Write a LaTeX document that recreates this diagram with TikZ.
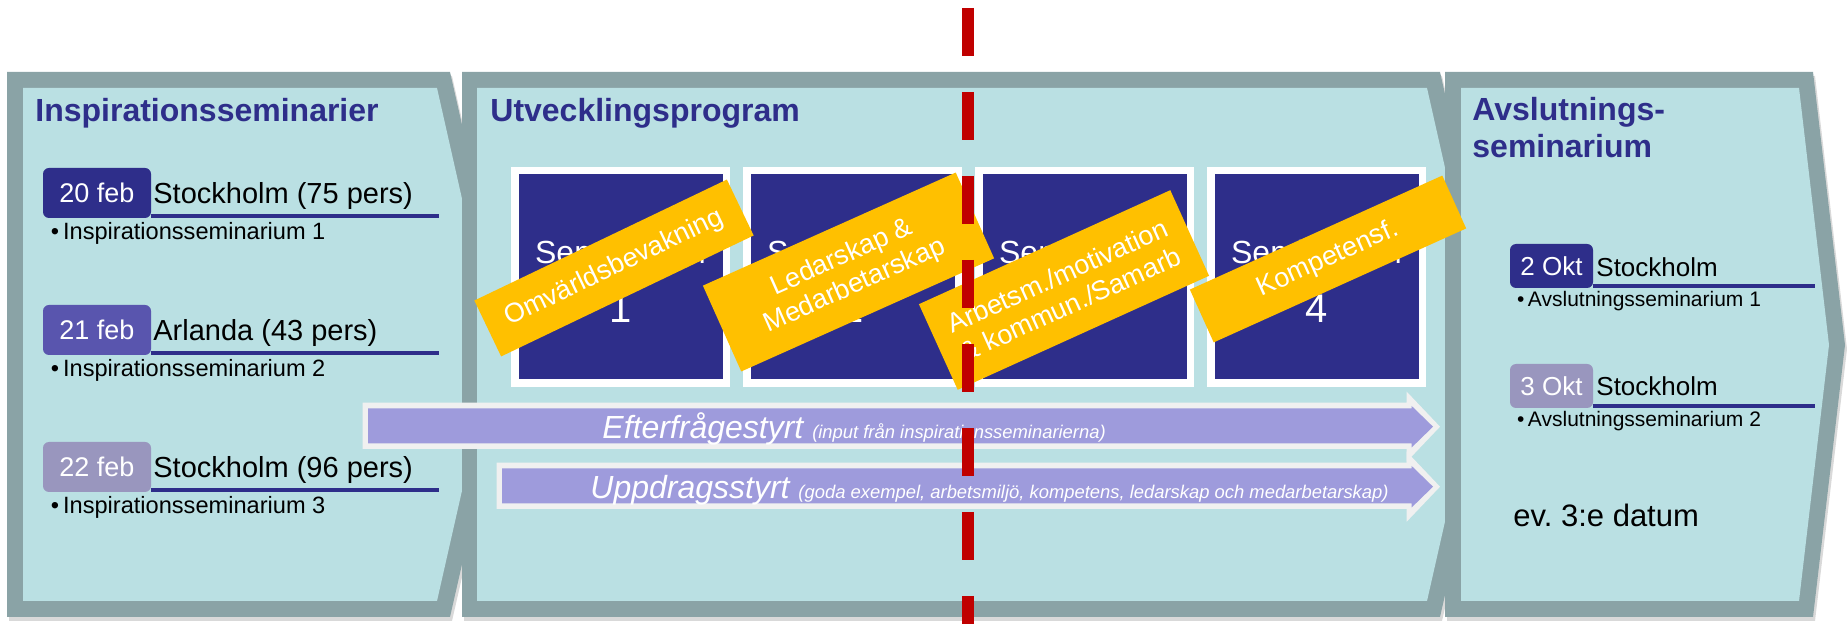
\documentclass[tikz,border=0pt]{standalone}
\usepackage{fontspec}
\setmainfont{Liberation Sans}
\usetikzlibrary{shadows}

\definecolor{panelgray}{HTML}{8AA3A6}
\definecolor{panelfill}{HTML}{BAE0E3}
\definecolor{navy}{HTML}{2E2E8A}
\definecolor{date2}{HTML}{5955AE}
\definecolor{date3}{HTML}{9996BE}
\definecolor{bandyellow}{HTML}{FFC000}
\definecolor{flowpurple}{HTML}{9E9BDC}
\definecolor{flowedge}{HTML}{F0F0F0}
\definecolor{cutred}{HTML}{C00000}

\tikzstyle{panel-edge}=[fill=panelgray, drop shadow={shadow xshift=1pt, shadow yshift=-2pt, opacity=.3}]
\tikzstyle{panel-inner}=[fill=panelfill]
\tikzstyle{title-text}=[anchor=base west, inner sep=0pt, text=navy, font=\fontsize{16}{18}\selectfont\bfseries]
\tikzstyle{date-box}=[rounded corners=3pt, text=white, inner sep=0pt, minimum width=54pt, minimum height=25pt, font=\fontsize{13.5}{16}\selectfont]
\tikzstyle{date-box-small}=[date-box, minimum width=41.5pt, minimum height=22pt, font=\fontsize{13}{15}\selectfont]
\tikzstyle{place-text}=[anchor=base west, inner sep=0pt, font=\fontsize{14.5}{17}\selectfont]
\tikzstyle{place-text-small}=[place-text, font=\fontsize{13}{15}\selectfont]
\tikzstyle{bullet-text}=[anchor=base west, inner sep=0pt, font=\fontsize{11.8}{14}\selectfont]
\tikzstyle{bullet-text-small}=[bullet-text, font=\fontsize{10.5}{12.5}\selectfont]
\tikzstyle{date-rule}=[draw=navy, line width=2.25pt]
\tikzstyle{sem-square}=[fill=navy, draw=white, line width=3.75pt, inner sep=0pt, minimum width=105.75pt, minimum height=106.25pt, drop shadow={shadow xshift=2pt, shadow yshift=-2pt, opacity=.2}]
\tikzstyle{sem-word}=[anchor=base, inner sep=0pt, text=white, font=\fontsize{16}{18}\selectfont]
\tikzstyle{sem-num}=[anchor=base, inner sep=0pt, text=white, font=\fontsize{20}{22}\selectfont]
\tikzstyle{topic-band}=[fill=bandyellow, text=white, inner sep=0pt, align=center, font=\fontsize{13.5}{15.5}\selectfont]
\tikzstyle{flow-edge}=[fill=flowedge]
\tikzstyle{flow-body}=[fill=flowpurple]
\tikzstyle{flow-text}=[anchor=base west, inner sep=0pt, text=white, font=\fontsize{16}{19}\selectfont\itshape]
\tikzstyle{cut-line}=[draw=cutred, line width=6pt, dash pattern=on 24pt off 18pt]

\newcommand{\flownote}[1]{{\fontsize{9.2}{11}\selectfont #1}}

\begin{document}
\begin{tikzpicture}[x=0.5pt, y=-0.5pt]
  \useasboundingbox (0,0) rectangle (1847,624);

  % three chevron panels
  \fill[panel-edge] (7,72) -- (450,72) -- (512,345) -- (450,617) -- (7,617) -- cycle;
  \fill[panel-inner] (23,88) -- (437,88) -- (495,345) -- (437,601) -- (23,601) -- cycle;
  \fill[panel-edge] (462,72) -- (1440,72) -- (1502,345) -- (1440,617) -- (462,617) -- cycle;
  \fill[panel-inner] (477,88) -- (1427,88) -- (1485,345) -- (1427,601) -- (477,601) -- cycle;
  \fill[panel-edge] (1445,72) -- (1813,72) -- (1845,345) -- (1813,617) -- (1445,617) -- cycle;
  \fill[panel-inner] (1461,88) -- (1799,88) -- (1829,345) -- (1799,601) -- (1461,601) -- cycle;

  \node (title1) at (35,122) [title-text] {Inspirationsseminarier};
  \node (title2) at (490,122) [title-text] {Utvecklingsprogram};
  \node (title3) at (1472,121) [title-text] {Avslutnings-};
  \node (title3b) at (1472,158) [title-text] {seminarium};

  % inspiration dates
  \node (date1) at (97,193) [date-box, fill=navy] {20 feb};
  \node (place1) at (153,204) [place-text] {Stockholm (75 pers)};
  \draw[date-rule] (151,216) -- (439,216);
  \node (note1) at (50.5,240) [bullet-text] {\textbullet\,Inspirationsseminarium 1};

  \node (date2) at (97,330) [date-box, fill=date2] {21 feb};
  \node (place2) at (153,341) [place-text] {Arlanda (43 pers)};
  \draw[date-rule] (151,353) -- (439,353);
  \node (note2) at (50.5,377) [bullet-text] {\textbullet\,Inspirationsseminarium 2};

  \node (date3) at (97,467) [date-box, fill=date3] {22 feb};
  \node (place3) at (153,478) [place-text] {Stockholm (96 pers)};
  \draw[date-rule] (151,490) -- (439,490);
  \node (note3) at (50.5,514) [bullet-text] {\textbullet\,Inspirationsseminarium 3};

  % closing dates
  \node (date4) at (1551.5,266) [date-box-small, fill=navy] {2 Okt};
  \node (place4) at (1596,277) [place-text-small] {Stockholm};
  \draw[date-rule] (1593,286) -- (1815,286);
  \node (note4) at (1516.7,307) [bullet-text-small] {\textbullet\,Avslutningsseminarium 1};

  \node (date5) at (1551.5,386) [date-box-small, fill=date3] {3 Okt};
  \node (place5) at (1596,396) [place-text-small] {Stockholm};
  \draw[date-rule] (1593,406) -- (1815,406);
  \node (note5) at (1516.7,427) [bullet-text-small] {\textbullet\,Avslutningsseminarium 2};

  \node (extra) at (1513,527) [anchor=base west, inner sep=0pt, font=\fontsize{15.5}{18}\selectfont] {ev.\ 3:e datum};

  % seminar squares
  \node (sem1) at (620.5,277) [sem-square] {};
  \node (sem2) at (852.5,277) [sem-square] {};
  \node (sem3) at (1084.5,277) [sem-square] {};
  \node (sem4) at (1316.5,277) [sem-square] {};
  \node (word1) at (620.5,264) [sem-word] {Seminarium};
  \node (word2) at (852.5,264) [sem-word] {Seminarium};
  \node (word3) at (1084.5,264) [sem-word] {Seminarium};
  \node (word4) at (1316.5,264) [sem-word] {Seminarium};
  \node (num1) at (620.5,323) [sem-num] {1};
  \node (num2) at (852.5,323) [sem-num] {2};
  \node (num3) at (1084.5,323) [sem-num] {3};
  \node (num4) at (1316.5,323) [sem-num] {4};

  % topic bands
  \node (band1) at (614,268) [topic-band, minimum width=140pt, minimum height=31pt, rotate=25.6] {Omvärldsbevakning};
  \node (band2) at (848.5,272) [topic-band, minimum width=138.5pt, minimum height=47pt, rotate=24.1] {Ledarskap \&\\Medarbetarskap};
  \node (band3) at (1064,290) [topic-band, minimum width=138pt, minimum height=47pt, rotate=24.4] {Arbetsm./motivation\\\& kommun./Samarb};
  \node (band4) at (1328,259) [topic-band, minimum width=138.5pt, minimum height=29pt, rotate=24.3] {Kompetensf.};

  % flow arrows
  \fill[flow-edge] (362.7,402.7) -- (1406.7,402.7) -- (1406.7,391.7) -- (1440,426.7) -- (1406.7,461.7) -- (1406.7,449) -- (362.7,449) -- cycle;
  \fill[flow-body] (368,408.3) -- (1411.7,408.3) -- (1411.7,406) -- (1433,426.7) -- (1411.7,447.4) -- (1411.7,443.3) -- (368,443.3) -- cycle;
  \fill[flow-edge] (496.7,462.7) -- (1406.7,462.7) -- (1406.7,451.7) -- (1440,486.7) -- (1406.7,521.7) -- (1406.7,509) -- (496.7,509) -- cycle;
  \fill[flow-body] (502,468.3) -- (1411.7,468.3) -- (1411.7,466) -- (1433,486.7) -- (1411.7,507.4) -- (1411.7,503.3) -- (502,503.3) -- cycle;
  \node (flow1) at (602,439) [flow-text] {Efterfrågestyrt \flownote{(input från inspirationsseminarierna)}};
  \node (flow2) at (590,499) [flow-text] {Uppdragsstyrt \flownote{(goda exempel, arbetsmiljö, kompetens, ledarskap och medarbetarskap)}};

  % cut line
  \coordinate (cut-top) at (968,8);
  \coordinate (cut-end) at (968,660);
  \draw[cut-line] (cut-top) -- (cut-end);
\end{tikzpicture}
\end{document}
